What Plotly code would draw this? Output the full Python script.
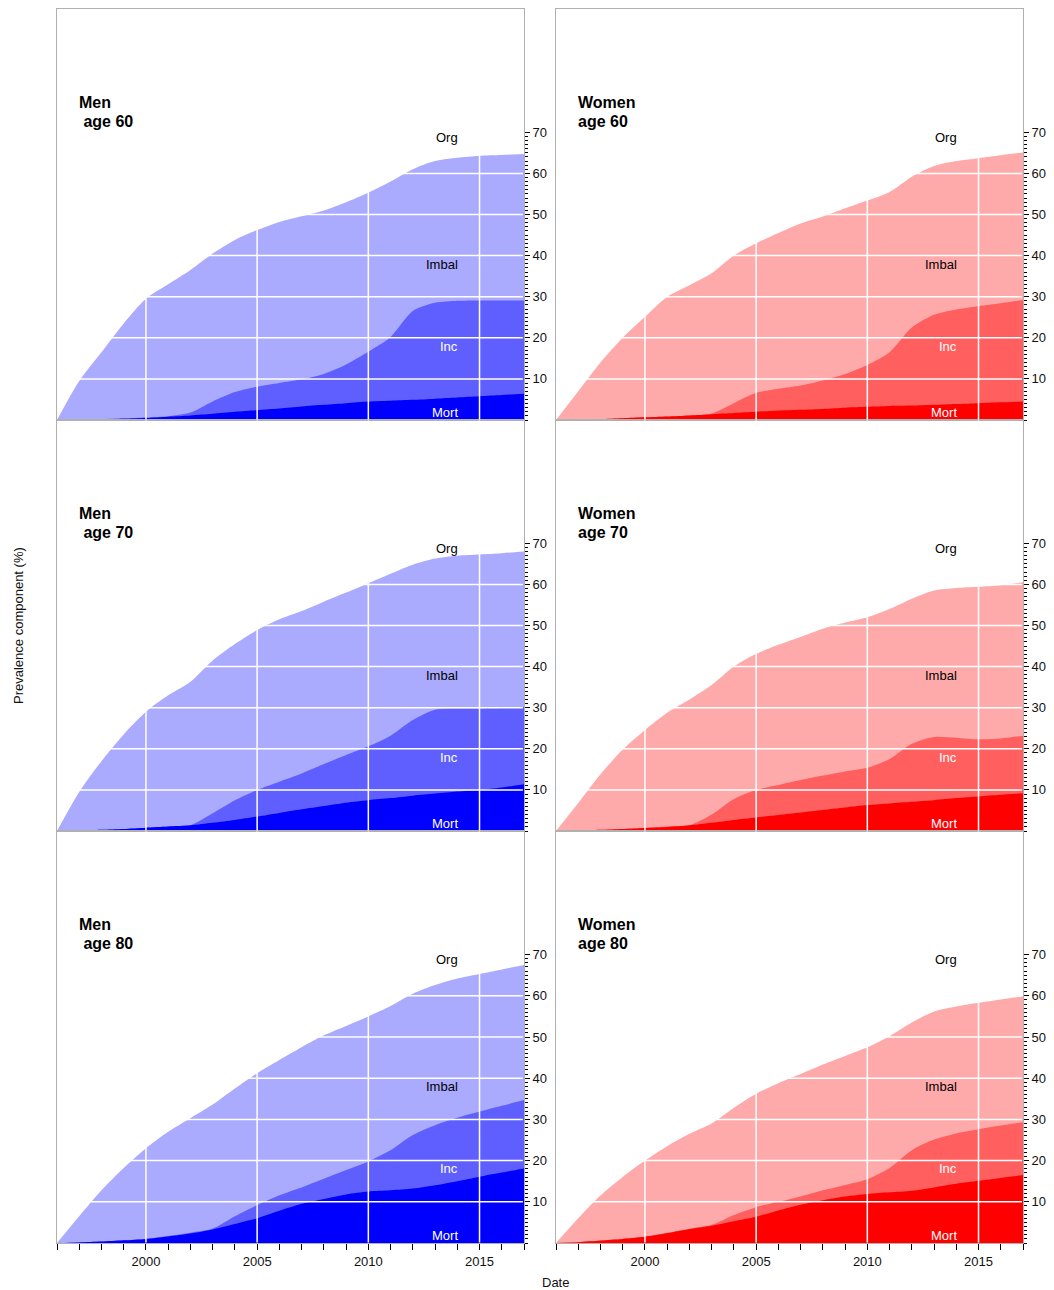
import plotly.graph_objects as go

years = list(range(1996, 2018))

# cumulative boundaries (Mort top, Mort+Inc top, total top) in %
men60_mort = [0, 0.05, 0.15, 0.3, 0.5, 0.8, 1.1, 1.5, 2.0, 2.4, 2.8, 3.3, 3.7, 4.1, 4.5, 4.7, 4.9, 5.2, 5.5, 5.8, 6.1, 6.4]
men60_inc = [0, 0.1, 0.2, 0.4, 0.6, 0.9, 1.8, 4.5, 6.8, 8.1, 9.0, 9.9, 11.2, 13.5, 16.6, 20.2, 26.5, 28.5, 29.0, 29.1, 29.1, 29.1]
men60_tot = [0, 9.5, 16.5, 23.5, 29.5, 33, 36.5, 40.5, 43.8, 46.2, 48.2, 49.6, 51, 53, 55.3, 58, 61, 63, 63.8, 64.3, 64.5, 64.7]

women60_mort = [0, 0.1, 0.25, 0.45, 0.65, 0.85, 1.1, 1.4, 1.7, 2.0, 2.3, 2.5, 2.7, 3.0, 3.2, 3.4, 3.5, 3.7, 3.9, 4.1, 4.3, 4.5]
women60_inc = [0, 0.1, 0.25, 0.45, 0.65, 0.85, 1.1, 1.6, 4.1, 6.6, 7.6, 8.4, 9.6, 11.2, 13.4, 16.5, 22.5, 25.6, 26.9, 27.7, 28.4, 29.2]
women60_tot = [0, 7, 14, 20, 25.1, 30, 32.8, 35.7, 40, 43, 45.5, 47.8, 49.5, 51.5, 53.4, 55.5, 59.2, 61.8, 63, 63.7, 64.4, 65.1]

men70_mort = [0, 0.1, 0.3, 0.5, 0.8, 1.1, 1.4, 2.0, 2.7, 3.5, 4.4, 5.3, 6.1, 6.9, 7.5, 8.0, 8.6, 9.1, 9.6, 10.0, 10.6, 11.4]
men70_inc = [0, 0.1, 0.3, 0.5, 0.8, 1.1, 1.4, 4.3, 7.5, 10, 12, 14, 16.3, 18.5, 20.6, 23.2, 27, 29.5, 29.8, 29.8, 29.9, 30.2]
men70_tot = [0, 9.5, 17, 23.5, 29, 33, 36.3, 41.5, 45.5, 48.9, 51.5, 53.5, 55.8, 58, 60.3, 62.6, 64.8, 66.3, 67, 67.3, 67.6, 68]

women70_mort = [0, 0.1, 0.3, 0.5, 0.75, 1.0, 1.4, 2.0, 2.7, 3.3, 3.9, 4.5, 5.1, 5.7, 6.3, 6.7, 7.1, 7.5, 8.0, 8.4, 8.8, 9.2]
women70_inc = [0, 0.1, 0.3, 0.5, 0.8, 1.1, 1.4, 4.0, 7.8, 10, 11.2, 12.4, 13.5, 14.5, 15.4, 17.5, 21.2, 22.9, 22.7, 22.3, 22.5, 23.2]
women70_tot = [0, 6.8, 13.8, 19.8, 24.6, 28.8, 32, 35.5, 40, 43.1, 45.3, 47.2, 49.2, 50.7, 52, 54, 56.5, 58.5, 59.1, 59.4, 59.8, 60.5]

men80_mort = [0, 0.15, 0.35, 0.65, 1.0, 1.6, 2.3, 3.3, 4.6, 6.0, 7.8, 9.5, 10.7, 11.8, 12.5, 12.8, 13.2, 14.0, 15.0, 16.1, 17.1, 18.1]
men80_inc = [0, 0.15, 0.35, 0.65, 1.0, 1.7, 2.5, 3.5, 6.5, 9.2, 11.6, 13.5, 15.6, 17.7, 19.8, 22.5, 26.2, 28.6, 30.4, 31.9, 33.3, 34.7]
men80_tot = [0, 6.5, 12.8, 18.2, 23, 27, 30.3, 33.6, 37.5, 41.2, 44.4, 47.5, 50.4, 52.7, 55, 57.5, 60.5, 62.6, 64.2, 65.3, 66.4, 67.5]

women80_mort = [0, 0.2, 0.6, 1.0, 1.5, 2.4, 3.4, 4.2, 5.3, 6.4, 7.9, 9.3, 10.4, 11.3, 11.9, 12.3, 12.7, 13.5, 14.4, 15.1, 15.8, 16.5]
women80_inc = [0, 0.2, 0.6, 1.0, 1.5, 2.4, 3.4, 4.4, 6.8, 8.7, 10.0, 11.3, 12.8, 14.1, 15.5, 18.2, 22.5, 25.1, 26.6, 27.6, 28.5, 29.3]
women80_tot = [0, 6, 11.5, 16, 20, 23.5, 26.5, 29, 32.8, 36.2, 38.8, 41, 43.3, 45.4, 47.5, 50.2, 53.5, 56.2, 57.4, 58.3, 59.1, 59.9]

title_line1 = ["Men", "Women", "Men", "Women", "Men", "Women"]
title_line2 = ["\u00a0age 60", "age 60", "\u00a0age 70", "age 70", "\u00a0age 80", "age 80"]
component_labels = ["Org", "Imbal", "Inc", "Mort"]
x_tick_vals = [2000, 2005, 2010, 2015]
y_tick_vals = [10, 20, 30, 40, 50, 60, 70]

panels = [
    (men60_mort, men60_inc, men60_tot, "blue"),
    (women60_mort, women60_inc, women60_tot, "red"),
    (men70_mort, men70_inc, men70_tot, "blue"),
    (women70_mort, women70_inc, women70_tot, "red"),
    (men80_mort, men80_inc, men80_tot, "blue"),
    (women80_mort, women80_inc, women80_tot, "red"),
]

palettes = {
    "blue": ("#0000FF", "#5F5FFF", "#AAAAFF"),
    "red": ("#FF0000", "#FF5F5F", "#FFAAAA"),
}

W, H = 1054, 1290
xdoms = [[57 / W, 524 / W], [556 / W, 1023 / W]]
rows_px = [(9, 420), (420, 831), (831, 1243)]
ydoms = [[1 - b / H, 1 - t / H] for t, b in rows_px]

FONT = "Liberation Sans, Arial, sans-serif"
fig = go.Figure()
shapes = []
annotations = []
layout = {}

for i, (mort, inc, tot, pal) in enumerate(panels):
    k = i + 1
    r, c = divmod(i, 2)
    xa, ya = f"x{k}" if k > 1 else "x", f"y{k}" if k > 1 else "y"
    cm, ci, cb = palettes[pal]
    for vals, col in [(tot, cb), (inc, ci), (mort, cm)]:
        fig.add_trace(go.Scatter(x=years, y=vals, mode="lines",
                                 line=dict(width=0, color=col, shape="spline", smoothing=0.8),
                                 fill="tozeroy", fillcolor=col, xaxis=xa, yaxis=ya,
                                 showlegend=False, hoverinfo="skip"))
    bottom = (r == 2)
    layout[f"xaxis{k}"] = dict(
        domain=xdoms[c], range=[1996, 2017], showgrid=False, zeroline=False,
        showline=True, mirror=True, linecolor="#b0b0b0", linewidth=1,
        tickmode="array", tickvals=x_tick_vals if bottom else [],
        ticks="outside" if bottom else "", ticklen=6, tickcolor="#000", tickwidth=1,
        showticklabels=bottom, tickfont=dict(size=13, color="#111", family=FONT),
        minor=dict(tickmode="array", tickvals=years if bottom else [], ticks="outside" if bottom else "",
                   ticklen=6, tickcolor="#000", tickwidth=1, showgrid=False),
        anchor=ya, fixedrange=True,
    )
    layout[f"yaxis{k}"] = dict(
        domain=ydoms[r], range=[0, 100], side="right", showgrid=False, zeroline=False,
        showline=True, mirror=True, linecolor="#b0b0b0", linewidth=1,
        tickmode="array", tickvals=y_tick_vals, ticks="outside", ticklen=5, tickcolor="#000", tickwidth=1,
        tickfont=dict(size=13, color="#111", family=FONT), ticklabelstandoff=0,
        minor=dict(tickmode="array", tickvals=list(range(0, 71)), ticks="outside", ticklen=3,
                   tickcolor="#000", tickwidth=1, showgrid=False),
        anchor=xa, fixedrange=True,
    )
    # white grid drawn above the filled areas
    for gy in [10, 20, 30, 40, 50, 60, 70]:
        shapes.append(dict(type="line", xref=xa, yref=ya, x0=1996.05, x1=2016.95, y0=gy, y1=gy,
                           line=dict(color="white", width=1.5), layer="above"))
    for gx in x_tick_vals:
        shapes.append(dict(type="line", xref=xa, yref=ya, x0=gx, x1=gx, y0=0.1, y1=99.9,
                           line=dict(color="white", width=1.5), layer="above"))
    for txt, ty in [(title_line1[i], 77.3), (title_line2[i], 72.7)]:
        annotations.append(dict(x=1996.92, y=ty, xref=xa, yref=ya, text=f"<b>{txt}</b>", showarrow=False,
                                xanchor="left", yanchor="middle", align="left",
                                font=dict(size=16, color="#000", family=FONT)))
    for lab, ly, colr in zip(component_labels, [68.8, 37.9, 18.0, 1.9], ["#000", "#000", "#fff", "#fff"]):
        annotations.append(dict(x=2014.1, y=ly, xref=xa, yref=ya, text=lab, showarrow=False,
                                xanchor="right", yanchor="middle",
                                font=dict(size=13, color=colr, family=FONT)))

annotations.append(dict(x=18 / W, y=1 - 626 / H, xref="paper", yref="paper", text="Prevalence component (%)",
                        textangle=-90, showarrow=False, xanchor="center", yanchor="middle",
                        font=dict(size=13, color="#111", family=FONT)))
annotations.append(dict(x=555 / W, y=1 - 1282 / H, xref="paper", yref="paper", text="Date",
                        showarrow=False, xanchor="center", yanchor="middle",
                        font=dict(size=13, color="#111", family=FONT)))

fig.update_layout(
    width=W, height=H, margin=dict(l=0, r=0, t=0, b=0),
    paper_bgcolor="white", plot_bgcolor="white",
    shapes=shapes, annotations=annotations, showlegend=False,
    font=dict(family=FONT), **layout,
)

fig.write_html("out.html")
